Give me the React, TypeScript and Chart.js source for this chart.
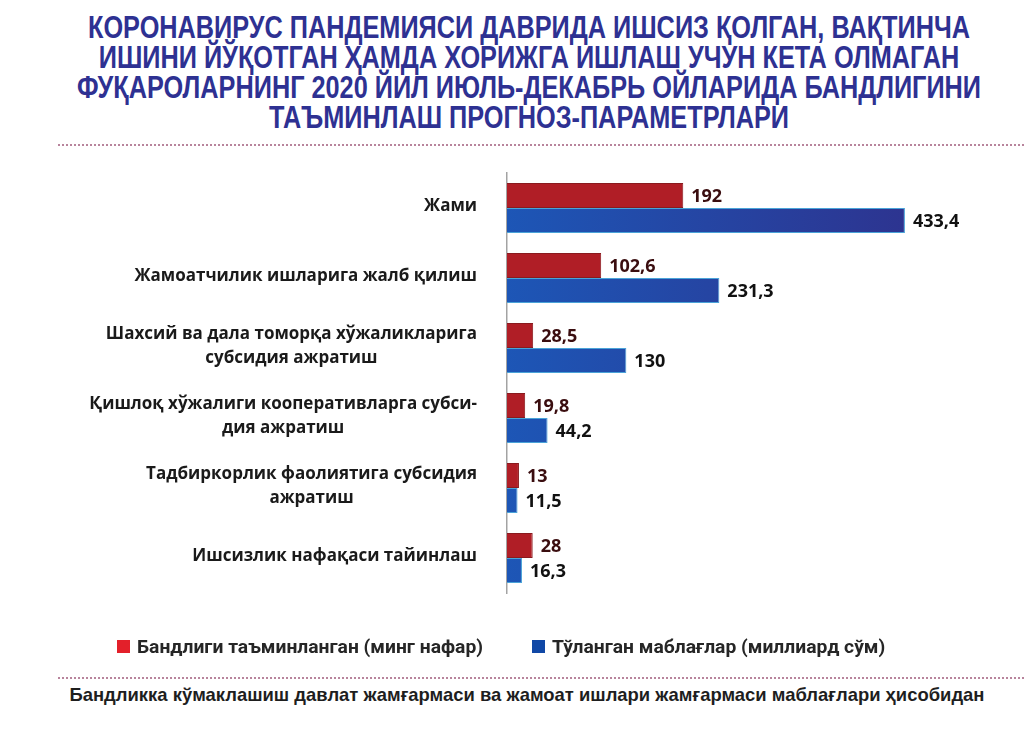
import React, { useEffect, useRef } from "react";
import { Chart, registerables } from "chart.js";

Chart.register(...registerables);

const titleLines: string[] = [
  "КОРОНАВИРУС ПАНДЕМИЯСИ ДАВРИДА ИШСИЗ ҚОЛГАН, ВАҚТИНЧА",
  "ИШИНИ ЙЎҚОТГАН ҲАМДА ХОРИЖГА ИШЛАШ УЧУН КЕТА ОЛМАГАН",
  "ФУҚАРОЛАРНИНГ 2020 ЙИЛ ИЮЛЬ-ДЕКАБРЬ ОЙЛАРИДА БАНДЛИГИНИ",
  "ТАЪМИНЛАШ ПРОГНОЗ-ПАРАМЕТРЛАРИ",
];

const categories: string[][] = [
  ["Жами"],
  ["Жамоатчилик ишларига жалб қилиш"],
  ["Шахсий ва дала томорқа хўжаликларига", "субсидия ажратиш"],
  ["Қишлоқ хўжалиги кооперативларга субси-", "дия ажратиш"],
  ["Тадбиркорлик фаолиятига субсидия", "ажратиш"],
  ["Ишсизлик нафақаси тайинлаш"],
];

const employedValues: number[] = [192, 102.6, 28.5, 19.8, 13, 28];
const fundsValues: number[] = [433.4, 231.3, 130, 44.2, 11.5, 16.3];

const seriesNames: string[] = [
  "Бандлиги таъминланган (минг нафар)",
  "Тўланган маблағлар (миллиард сўм)",
];

const footerText =
  "Бандликка кўмаклашиш давлат жамғармаси ва жамоат ишлари жамғармаси маблағлари ҳисобидан";

const RED = "#b01e26";
const RED_BORDER = "#8a1a1e";
const BLUE_LEFT = "#1d56b6";
const BLUE_RIGHT = "#2d3490";
const BLUE_BORDER = "#4aa3d8";
const LEGEND_COLORS = ["#e3202a", "#1048a6"];
const TITLE_COLOR = "#2e3192";
const DOT_COLOR = "#b8849c";

const TITLE_FONT = "bold 32px 'Liberation Sans', Arial, sans-serif";
const LEGEND_FONT = "bold 18px Roboto, 'Liberation Sans', sans-serif";
const FOOTER_FONT = "bold 19px 'Liberation Sans', Arial, sans-serif";

const fmt = (v: number) => String(v).replace(".", ",");

function measure(font: string, text: string): number {
  const c = document.createElement("canvas");
  const ctx = c.getContext("2d");
  if (!ctx) return 1;
  ctx.font = font;
  return ctx.measureText(text).width || 1;
}

const categoryLabelPlugin = {
  id: "categoryLabels",
  afterDraw(chart: any) {
    const y = chart.scales.y;
    const ctx = chart.ctx;
    ctx.save();
    ctx.font = "bold 17px 'Open Sans', sans-serif";
    ctx.fillStyle = "#1a1a1a";
    ctx.textAlign = "center";
    ctx.textBaseline = "middle";
    const right = chart.chartArea.left - 30;
    const lh = 24;
    categories.forEach((lines, i) => {
      const cy = y.getPixelForTick(i) - 2;
      const maxW = Math.max(...lines.map((l) => ctx.measureText(l).width));
      const cx = right - maxW / 2;
      lines.forEach((line, j) => {
        ctx.fillText(line, cx, cy + (j - (lines.length - 1) / 2) * lh);
      });
    });
    ctx.restore();
  },
};

const valueLabelPlugin = {
  id: "valueLabels",
  afterDatasetsDraw(chart: any) {
    const ctx = chart.ctx;
    ctx.save();
    ctx.font = "bold 18px 'Open Sans', sans-serif";
    ctx.textAlign = "left";
    ctx.textBaseline = "middle";
    chart.data.datasets.forEach((ds: any, di: number) => {
      const meta = chart.getDatasetMeta(di);
      ctx.fillStyle = di === 0 ? "#3a0d0f" : "#111111";
      meta.data.forEach((bar: any, i: number) => {
        ctx.fillText(fmt(ds.data[i]), bar.x + 8, bar.y + 1);
      });
    });
    ctx.restore();
  },
};

function ChartCanvas() {
  const ref = useRef<HTMLCanvasElement | null>(null);
  useEffect(() => {
    if (!ref.current) return;
    const chart = new Chart(ref.current, {
      type: "bar",
      data: {
        labels: categories.map((c) => c.join(" ")),
        datasets: [
          {
            label: seriesNames[0],
            data: employedValues,
            backgroundColor: RED,
            borderColor: RED_BORDER,
            borderWidth: 1,
            borderSkipped: "left",
          },
          {
            label: seriesNames[1],
            data: fundsValues,
            backgroundColor: (c: any) => {
              const area = c.chart.chartArea;
              if (!area) return BLUE_LEFT;
              const g = c.chart.ctx.createLinearGradient(area.left, 0, area.left + 400, 0);
              g.addColorStop(0, BLUE_LEFT);
              g.addColorStop(1, BLUE_RIGHT);
              return g;
            },
            borderColor: BLUE_BORDER,
            borderWidth: 1,
            borderSkipped: "left",
          },
        ],
      },
      options: {
        indexAxis: "y",
        responsive: false,
        animation: false,
        layout: { padding: { top: 23, left: 69, right: 24, bottom: 71 } },
        datasets: {
          bar: { categoryPercentage: 0.714, barPercentage: 1 },
        },
        scales: {
          x: { display: false, min: 0, max: 537 },
          y: {
            display: true,
            grid: { display: false },
            border: { display: true, color: "#a3a3a3", width: 1.5 },
            ticks: { display: false },
            afterFit: (s: any) => {
              s.width = 438;
            },
          },
        },
        plugins: {
          tooltip: { enabled: false },
          legend: { display: false },
        },
      } as any,
      plugins: [categoryLabelPlugin, valueLabelPlugin],
    });
    return () => chart.destroy();
  }, []);
  return (
    <canvas
      ref={ref}
      width={1024}
      height={514}
      style={{ position: "absolute", left: 0, top: 150, width: 1024, height: 514 }}
    />
  );
}

function Legend() {
  const s = 346 / measure(LEGEND_FONT, seriesNames[0]);
  const lefts = [117, 532];
  return (
    <>
      {seriesNames.map((name, i) => (
        <div
          key={i}
          style={{
            position: "absolute",
            left: lefts[i],
            top: 638,
            height: 18,
            whiteSpace: "nowrap",
          }}
        >
          <div
            style={{
              position: "absolute",
              left: 0,
              top: 2,
              width: 13,
              height: 13,
              background: LEGEND_COLORS[i],
            }}
          />
          <div
            style={{
              position: "absolute",
              left: 20,
              top: 0,
              font: LEGEND_FONT,
              lineHeight: "18px",
              color: "#262626",
              transform: `scaleX(${s})`,
              transformOrigin: "left center",
            }}
          >
            {name}
          </div>
        </div>
      ))}
    </>
  );
}

export default function App() {
  const titleScale = 882 / measure(TITLE_FONT, titleLines[0]);
  const footerScale = 915 / measure(FOOTER_FONT, footerText);
  return (
    <div
      style={{
        position: "absolute",
        left: 0,
        top: 0,
        width: 1024,
        height: 729,
        background: "#ffffff",
        overflow: "hidden",
      }}
    >
      {titleLines.map((l, i) => (
        <div
          key={i}
          style={{
            position: "absolute",
            left: 529,
            top: 12 + i * 30,
            whiteSpace: "nowrap",
            font: TITLE_FONT,
            lineHeight: "30px",
            color: TITLE_COLOR,
            transform: `translateX(-50%) scaleX(${titleScale})`,
            transformOrigin: "center",
          }}
        >
          {l}
        </div>
      ))}
      <div
        style={{
          position: "absolute",
          left: 58,
          top: 144,
          width: 966,
          borderTop: `2px dotted ${DOT_COLOR}`,
        }}
      />
      <ChartCanvas />
      <Legend />
      <div
        style={{
          position: "absolute",
          left: 58,
          top: 677,
          width: 966,
          borderTop: `2px dotted ${DOT_COLOR}`,
        }}
      />
      <div
        style={{
          position: "absolute",
          left: 527,
          top: 685,
          whiteSpace: "nowrap",
          font: FOOTER_FONT,
          lineHeight: "19px",
          color: "#1e1e1e",
          transform: `translateX(-50%) scaleX(${footerScale})`,
          transformOrigin: "center",
        }}
      >
        {footerText}
      </div>
    </div>
  );
}
